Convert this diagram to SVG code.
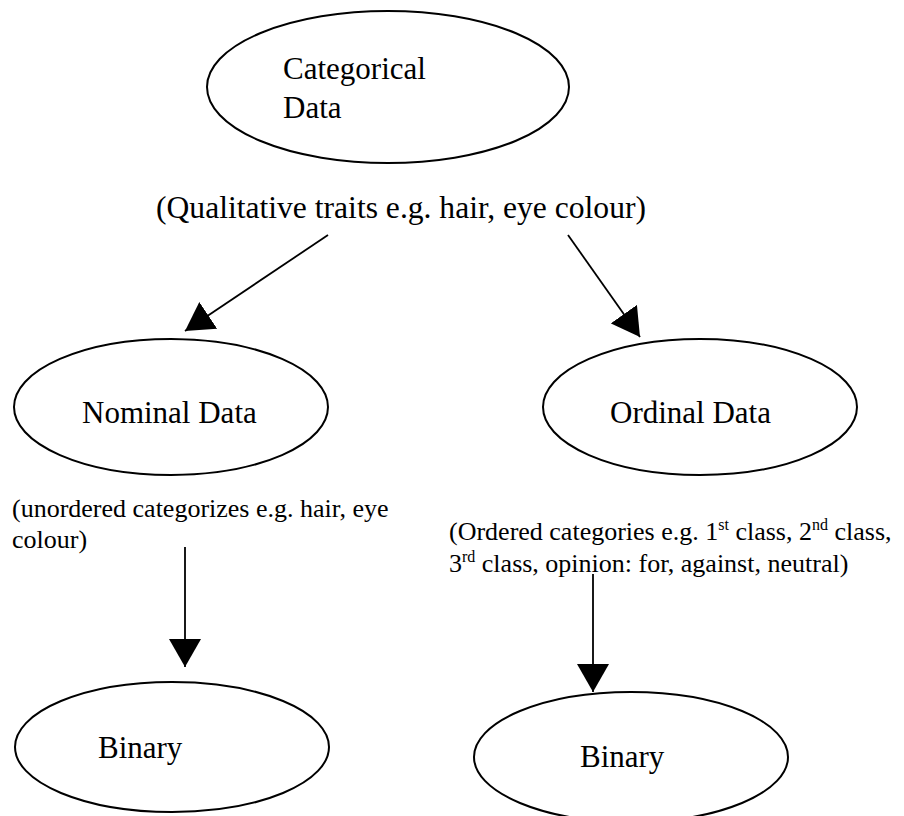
<svg xmlns="http://www.w3.org/2000/svg" width="904" height="816" viewBox="0 0 904 816">
<style>
.n{fill:#fff;stroke:#000;stroke-width:2}
.t{font-family:"Liberation Serif","Times New Roman",serif;fill:#000}
.big{font-size:31px}
.sm{font-size:26px}
.sup{font-size:16px}
.c{stroke:#000;stroke-width:1.8;fill:none;marker-end:url(#ah)}
</style>
<defs>
<marker id="ah" markerUnits="userSpaceOnUse" markerWidth="30" markerHeight="32" refX="28" refY="16" orient="auto" viewBox="0 0 30 32">
<path d="M0,0 L28,16 L0,32 z" fill="#000"/>
</marker>
</defs>
<rect width="904" height="816" fill="#fff"/>
<g id="connectors">
<line class="c" x1="328" y1="235" x2="185" y2="331"/>
<line class="c" x1="568" y1="235" x2="640" y2="337"/>
<line class="c" x1="185" y1="547" x2="185" y2="667"/>
<line class="c" x1="593" y1="574" x2="593" y2="692"/>
</g>
<g id="categorical">
<ellipse class="n" cx="388" cy="87" rx="181" ry="76"/>
<text class="t big" x="283" y="79">Categorical</text>
<text class="t big" x="283" y="118">Data</text>
</g>
<text id="qualitative-label" class="t" x="156" y="218" font-size="31.6">(Qualitative traits e.g. hair, eye colour)</text>
<g id="nominal">
<ellipse class="n" cx="171" cy="407" rx="157" ry="68"/>
<text class="t big" x="82" y="423">Nominal Data</text>
</g>
<g id="ordinal">
<ellipse class="n" cx="700" cy="407" rx="157" ry="68"/>
<text class="t big" x="610" y="423">Ordinal Data</text>
</g>
<g id="nominal-label">
<text class="t sm" x="12" y="517">(unordered categorizes e.g. hair, eye</text>
<text class="t sm" x="12" y="548">colour)</text>
</g>
<g id="ordinal-label">
<text class="t sm" x="449" y="540">(Ordered categories e.g. 1<tspan class="sup" dy="-10">st</tspan><tspan dy="10"> class, 2</tspan><tspan class="sup" dy="-10">nd</tspan><tspan dy="10"> class,</tspan></text>
<text class="t sm" x="449" y="572">3<tspan class="sup" dy="-10">rd</tspan><tspan dy="10"> class, opinion: for, against, neutral)</tspan></text>
</g>
<g id="binary-left">
<ellipse class="n" cx="172" cy="747" rx="157" ry="65"/>
<text class="t big" x="98" y="758">Binary</text>
</g>
<g id="binary-right">
<ellipse class="n" cx="631" cy="757" rx="157" ry="65"/>
<text class="t big" x="580" y="767">Binary</text>
</g>
</svg>
